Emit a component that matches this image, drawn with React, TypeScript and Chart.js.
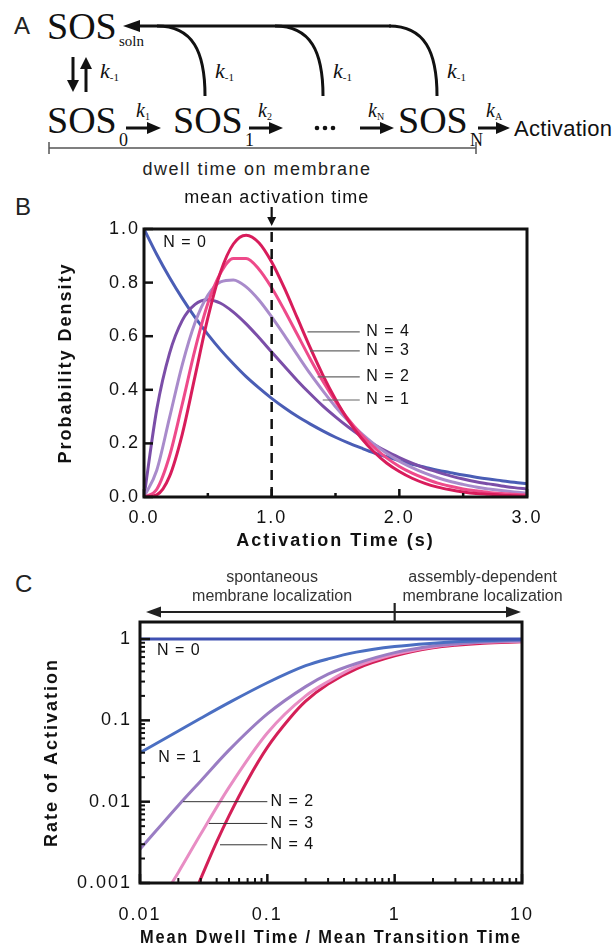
import React, { useEffect, useRef } from "react";
import { Chart, registerables } from "chart.js";

Chart.register(...registerables);

const SANS = '"Liberation Sans", Arial, Helvetica, sans-serif';
const SERIF = '"Liberation Serif", "Times New Roman", Times, serif';
const INK = "#111";

// ---------- Panel B: probability density of the activation time ----------
const activationTime = [0, 0.1, 0.2, 0.3, 0.4, 0.5, 0.6, 0.7, 0.8, 0.9, 1.0, 1.1, 1.2, 1.3, 1.4, 1.5, 1.6, 1.7, 1.8, 1.9, 2.0, 2.1, 2.2, 2.3, 2.4, 2.5, 2.6, 2.7, 2.8, 2.9, 3.0];
const densityN0 = [1.0, 0.905, 0.819, 0.741, 0.67, 0.607, 0.549, 0.497, 0.449, 0.407, 0.368, 0.333, 0.301, 0.273, 0.247, 0.223, 0.202, 0.183, 0.165, 0.15, 0.135, 0.122, 0.111, 0.1, 0.091, 0.082, 0.074, 0.067, 0.061, 0.055, 0.05];
const densityN1 = [0, 0.327, 0.536, 0.659, 0.719, 0.736, 0.723, 0.69, 0.646, 0.595, 0.541, 0.488, 0.435, 0.386, 0.34, 0.299, 0.261, 0.227, 0.197, 0.17, 0.147, 0.126, 0.108, 0.093, 0.079, 0.067, 0.057, 0.049, 0.041, 0.035, 0.03];
const densityN2 = [0, 0.1, 0.296, 0.494, 0.651, 0.753, 0.803, 0.81, 0.784, 0.735, 0.672, 0.603, 0.531, 0.461, 0.397, 0.337, 0.284, 0.238, 0.198, 0.163, 0.134, 0.11, 0.089, 0.072, 0.058, 0.047, 0.037, 0.03, 0.024, 0.019, 0.015];
const densityN3 = [0, 0.029, 0.153, 0.347, 0.551, 0.722, 0.836, 0.89, 0.89, 0.85, 0.781, 0.697, 0.607, 0.517, 0.433, 0.357, 0.29, 0.234, 0.186, 0.146, 0.114, 0.089, 0.069, 0.052, 0.04, 0.03, 0.023, 0.017, 0.013, 0.01, 0.007];
const densityN4 = [0, 0.008, 0.077, 0.235, 0.451, 0.668, 0.84, 0.944, 0.977, 0.949, 0.877, 0.779, 0.669, 0.559, 0.456, 0.365, 0.286, 0.221, 0.169, 0.127, 0.095, 0.07, 0.051, 0.037, 0.027, 0.019, 0.013, 0.01, 0.007, 0.005, 0.003];
const densityLabels = ["N = 0", "N = 1", "N = 2", "N = 3", "N = 4"];
const densityColors = ["#4a5db5", "#7b4ea8", "#a98bcb", "#ee4a8a", "#d81c5b"];
const meanActivationTime = 1.0;

// where the curve tags sit (N = 1 … N = 4), in data units
const densityTagLevel = [0.362, 0.448, 0.545, 0.616];
const densityTagFrom = [1.4, 1.36, 1.3, 1.28];
const densityTagTo = 1.69;
const densityTagTextAt = 1.74;
const densityN0Tag = { x: 0.15, y: 0.948 };

// ---------- Panel C: rate of activation vs dwell/transition ratio ----------
const dwellRatioN0 = [0.01, 10];
const rateN0 = [1, 1];
const dwellRatioN1 = [0.01, 0.02, 0.03, 0.05, 0.1, 0.2, 0.3, 0.5, 1, 2, 3, 5, 10];
const rateN1 = [0.04, 0.074, 0.106, 0.165, 0.29, 0.47, 0.57, 0.69, 0.81, 0.89, 0.925, 0.955, 0.977];
const dwellRatioN2 = [0.01, 0.02, 0.03, 0.05, 0.1, 0.2, 0.3, 0.5, 1, 2, 3, 5, 10];
const rateN2 = [0.0026, 0.009, 0.018, 0.043, 0.12, 0.26, 0.37, 0.5, 0.68, 0.82, 0.87, 0.92, 0.955];
const dwellRatioN3 = [0.0178, 0.02, 0.03, 0.05, 0.1, 0.2, 0.3, 0.5, 1, 2, 3, 5, 10];
const rateN3 = [0.001, 0.00135, 0.004, 0.015, 0.07, 0.2, 0.3, 0.46, 0.65, 0.8, 0.86, 0.91, 0.94];
const dwellRatioN4 = [0.029, 0.04, 0.05, 0.07, 0.1, 0.15, 0.2, 0.3, 0.5, 1, 2, 3, 5, 10];
const rateN4 = [0.001, 0.0032, 0.0067, 0.0184, 0.0465, 0.106, 0.172, 0.28, 0.43, 0.62, 0.78, 0.84, 0.89, 0.925];
const rateLabels = ["N = 0", "N = 1", "N = 2", "N = 3", "N = 4"];
const rateColors = ["#3f50b2", "#4b6fc2", "#9a7dc3", "#e88dc4", "#d41f57"];
const ratioTicks = [0.01, 0.1, 1, 10];
const rateTicks = [0.001, 0.01, 0.1, 1];

const rateN0Tag = { x: 0.0136, y: 0.73 };
const rateN1Tag = { x: 0.0139, y: 0.035 };
const rateTagFrom = [0.0218, 0.0348, 0.0425]; // N = 2, 3, 4
const rateTagLevel = [0.01, 0.0054, 0.00295];
const rateTagTo = 0.1;
const rateTagTextAt = 0.106;
const regimeSplit = 1;
const regimeLeftAt = 0.109;
const regimeRightAt = 4.9;

const zip = (xs: number[], ys: number[]) => xs.map((x, i) => ({ x, y: ys[i] }));

function seg(ctx: any, x1: number, y1: number, x2: number, y2: number) {
  ctx.beginPath();
  ctx.moveTo(x1, y1);
  ctx.lineTo(x2, y2);
  ctx.stroke();
}

function tri(ctx: any, pts: number[][]) {
  ctx.beginPath();
  ctx.moveTo(pts[0][0], pts[0][1]);
  for (let i = 1; i < pts.length; i++) ctx.lineTo(pts[i][0], pts[i][1]);
  ctx.closePath();
  ctx.fill();
}

// wide tracking used by the axis text
const trackedText = {
  id: "trackedText",
  beforeLayout(chart: any, _a: any, opts: any) {
    chart.ctx.letterSpacing = opts.spacing || "0px";
  },
  beforeDraw(chart: any, _a: any, opts: any) {
    chart.ctx.letterSpacing = opts.spacing || "0px";
  },
};

function logMinors(scale: any) {
  const out: number[] = [];
  const e0 = Math.floor(Math.log10(scale.min));
  const e1 = Math.ceil(Math.log10(scale.max));
  for (let e = e0; e <= e1; e++) {
    for (let k = 2; k <= 9; k++) {
      const v = k * Math.pow(10, e);
      if (v > scale.min * 1.0001 && v < scale.max * 0.9999) out.push(v);
    }
  }
  return out;
}

const densityDecor = {
  id: "densityDecor",
  afterDraw(chart: any) {
    const { ctx, chartArea: a } = chart;
    const xs = chart.scales.x;
    const ys = chart.scales.y;
    ctx.save();
    ctx.letterSpacing = "0px";
    ctx.strokeStyle = INK;
    ctx.fillStyle = INK;

    // inward tick marks
    ctx.lineWidth = 2.5;
    const xt = xs.ticks.map((t: any) => t.value);
    xt.forEach((v: number, i: number) => {
      const px = xs.getPixelForValue(v);
      seg(ctx, px, a.bottom, px, a.bottom - 8);
      if (i < xt.length - 1) {
        const m = xs.getPixelForValue((v + xt[i + 1]) / 2);
        seg(ctx, m, a.bottom, m, a.bottom - 4);
      }
    });
    ys.ticks.forEach((t: any) => {
      const py = ys.getPixelForValue(t.value);
      seg(ctx, a.left, py, a.left + 9, py);
    });

    // plot frame
    ctx.lineWidth = 3;
    ctx.strokeRect(a.left, a.top, a.right - a.left, a.bottom - a.top);

    // mean activation time marker above the frame
    const mx = xs.getPixelForValue(meanActivationTime);
    ctx.lineWidth = 2.2;
    seg(ctx, mx, a.top - 22, mx, a.top - 10);
    tri(ctx, [[mx - 4.5, a.top - 12], [mx + 4.5, a.top - 12], [mx, a.top - 3]]);
    ctx.font = `18px ${SANS}`;
    ctx.letterSpacing = "1px";
    ctx.textAlign = "center";
    ctx.textBaseline = "alphabetic";
    ctx.fillText("mean activation time", mx + 5, a.top - 26);

    // curve tags
    ctx.font = `16px ${SANS}`;
    ctx.textAlign = "left";
    ctx.textBaseline = "middle";
    ctx.fillText(densityLabels[0], xs.getPixelForValue(densityN0Tag.x), ys.getPixelForValue(densityN0Tag.y));
    ctx.strokeStyle = "#666";
    ctx.lineWidth = 1.2;
    densityTagLevel.forEach((lv, i) => {
      const py = ys.getPixelForValue(lv);
      seg(ctx, xs.getPixelForValue(densityTagFrom[i]), py, xs.getPixelForValue(densityTagTo), py);
      ctx.fillText(densityLabels[i + 1], xs.getPixelForValue(densityTagTextAt), py);
    });
    ctx.restore();
  },
};

const rateDecor = {
  id: "rateDecor",
  afterDraw(chart: any) {
    const { ctx, chartArea: a } = chart;
    const xs = chart.scales.x;
    const ys = chart.scales.y;
    ctx.save();
    ctx.letterSpacing = "0px";
    ctx.strokeStyle = INK;
    ctx.fillStyle = INK;

    // inward log ticks
    ctx.lineWidth = 2.5;
    xs.ticks.forEach((t: any) => {
      const px = xs.getPixelForValue(t.value);
      seg(ctx, px, a.bottom, px, a.bottom - 9);
    });
    ys.ticks.forEach((t: any) => {
      const py = ys.getPixelForValue(t.value);
      seg(ctx, a.left, py, a.left + 10, py);
    });
    ctx.lineWidth = 2;
    logMinors(xs).forEach((v) => {
      const px = xs.getPixelForValue(v);
      seg(ctx, px, a.bottom, px, a.bottom - 5);
    });
    logMinors(ys).forEach((v) => {
      const py = ys.getPixelForValue(v);
      seg(ctx, a.left, py, a.left + 5, py);
    });

    // plot frame
    ctx.lineWidth = 3;
    ctx.strokeRect(a.left, a.top, a.right - a.left, a.bottom - a.top);

    // regime arrows above the frame
    const ya = a.top - 10;
    const xl = a.left + 6;
    const xr = a.right - 1;
    ctx.strokeStyle = "#222";
    ctx.fillStyle = "#222";
    ctx.lineWidth = 2.2;
    seg(ctx, xl + 10, ya, xr - 10, ya);
    tri(ctx, [[xl, ya], [xl + 15, ya - 5.5], [xl + 15, ya + 5.5]]);
    tri(ctx, [[xr, ya], [xr - 15, ya - 5.5], [xr - 15, ya + 5.5]]);
    const xsplit = xs.getPixelForValue(regimeSplit);
    seg(ctx, xsplit, a.top - 19, xsplit, a.top);

    ctx.fillStyle = "#333";
    ctx.font = `16px ${SANS}`;
    ctx.textAlign = "center";
    ctx.textBaseline = "alphabetic";
    const lx = xs.getPixelForValue(regimeLeftAt);
    const rx = xs.getPixelForValue(regimeRightAt);
    ctx.fillText("spontaneous", lx, a.top - 40);
    ctx.fillText("membrane localization", lx, a.top - 21);
    ctx.fillText("assembly-dependent", rx, a.top - 40);
    ctx.fillText("membrane localization", rx, a.top - 21);

    // curve tags
    ctx.fillStyle = INK;
    ctx.letterSpacing = "1px";
    ctx.textAlign = "left";
    ctx.textBaseline = "middle";
    ctx.fillText(rateLabels[0], xs.getPixelForValue(rateN0Tag.x), ys.getPixelForValue(rateN0Tag.y));
    ctx.fillText(rateLabels[1], xs.getPixelForValue(rateN1Tag.x), ys.getPixelForValue(rateN1Tag.y));
    ctx.strokeStyle = "#333";
    ctx.lineWidth = 1;
    rateTagLevel.forEach((lv, i) => {
      const py = ys.getPixelForValue(lv);
      seg(ctx, xs.getPixelForValue(rateTagFrom[i]), py, xs.getPixelForValue(rateTagTo), py);
      ctx.fillText(rateLabels[i + 2], xs.getPixelForValue(rateTagTextAt), py);
    });
    ctx.restore();
  },
};

const tickFont = { family: SANS, size: 18 };
const titleFont = { family: SANS, size: 18, weight: "bold" as const };

function densityConfig(): any {
  const series = [densityN0, densityN1, densityN2, densityN3, densityN4];
  const curves = series
    .map((ys, i) => ({
      label: densityLabels[i],
      data: zip(activationTime, ys),
      borderColor: densityColors[i],
      borderWidth: 3,
      pointRadius: 0,
      cubicInterpolationMode: "monotone",
      fill: false,
    }))
    .reverse();
  const meanLine = {
    label: "mean activation time",
    data: [
      { x: meanActivationTime, y: 0 },
      { x: meanActivationTime, y: 1 },
    ],
    borderColor: INK,
    borderWidth: 2.5,
    borderDash: [10, 7],
    pointRadius: 0,
    fill: false,
  };
  return {
    type: "line",
    data: { datasets: [meanLine, ...curves] },
    plugins: [trackedText, densityDecor],
    options: {
      animation: false,
      responsive: false,
      devicePixelRatio: 1,
      events: [],
      layout: { padding: { top: 49, right: 87, bottom: 0, left: 0 } },
      plugins: {
        legend: { display: false },
        tooltip: { enabled: false },
        trackedText: { spacing: "2px" },
      },
      scales: {
        x: {
          type: "linear",
          min: 0,
          max: 3,
          ticks: {
            stepSize: 1,
            padding: 10,
            color: INK,
            font: tickFont,
            maxRotation: 0,
            autoSkip: false,
            callback: (v: any) => Number(v).toFixed(1),
          },
          grid: { display: false, drawTicks: false },
          border: { display: false },
          title: { display: true, text: "Activation Time (s)", color: INK, font: titleFont, padding: { top: 0, bottom: 8 } },
          afterFit: (s: any) => {
            s.height = 63;
          },
        },
        y: {
          type: "linear",
          min: 0,
          max: 1,
          ticks: {
            stepSize: 0.2,
            padding: 4,
            color: INK,
            font: tickFont,
            callback: (v: any) => Number(v).toFixed(1),
          },
          grid: { display: false, drawTicks: false },
          border: { display: false },
          title: { display: true, text: "Probability Density", color: INK, font: titleFont, padding: { top: 55, bottom: 0 } },
          afterFit: (s: any) => {
            s.width = 144;
          },
        },
      },
    },
  };
}

function rateConfig(): any {
  const xsList = [dwellRatioN0, dwellRatioN1, dwellRatioN2, dwellRatioN3, dwellRatioN4];
  const ysList = [rateN0, rateN1, rateN2, rateN3, rateN4];
  const datasets = ysList.map((ys, i) => ({
    label: rateLabels[i],
    data: zip(xsList[i], ys),
    borderColor: rateColors[i],
    borderWidth: 3,
    pointRadius: 0,
    cubicInterpolationMode: "monotone",
    fill: false,
  }));
  return {
    type: "line",
    data: { datasets },
    plugins: [trackedText, rateDecor],
    options: {
      animation: false,
      responsive: false,
      devicePixelRatio: 1,
      events: [],
      layout: { padding: { top: 62, right: 92, bottom: 0, left: 0 } },
      plugins: {
        legend: { display: false },
        tooltip: { enabled: false },
        trackedText: { spacing: "2px" },
      },
      scales: {
        x: {
          type: "logarithmic",
          min: 0.01,
          max: 10,
          afterBuildTicks: (s: any) => {
            s.ticks = ratioTicks.map((value) => ({ value }));
          },
          ticks: {
            padding: 21,
            color: INK,
            font: tickFont,
            maxRotation: 0,
            autoSkip: false,
            callback: (v: any) => String(v),
          },
          grid: { display: false, drawTicks: false },
          border: { display: false },
          title: {
            display: true,
            text: "Mean Dwell Time / Mean Transition Time",
            color: INK,
            font: titleFont,
            padding: { top: 0, bottom: 2 },
          },
          afterFit: (s: any) => {
            s.height = 68;
          },
        },
        y: {
          type: "logarithmic",
          min: 0.001,
          max: 1.62,
          afterBuildTicks: (s: any) => {
            s.ticks = rateTicks.map((value) => ({ value }));
          },
          ticks: {
            padding: 8,
            color: INK,
            font: tickFont,
            autoSkip: false,
            callback: (v: any) => String(v),
          },
          grid: { display: false, drawTicks: false },
          border: { display: false },
          title: { display: true, text: "Rate of Activation", color: INK, font: titleFont, padding: { top: 41, bottom: 0 } },
          afterFit: (s: any) => {
            s.width = 140;
          },
        },
      },
    },
  };
}

function ChartPanel({ make, top, height }: { make: () => any; top: number; height: number }) {
  const ref = useRef<HTMLCanvasElement>(null);
  useEffect(() => {
    if (!ref.current) return;
    const chart = new Chart(ref.current, make());
    return () => chart.destroy();
  }, [make]);
  return (
    <canvas
      ref={ref}
      width={614}
      height={height}
      style={{ position: "absolute", left: 0, top, width: 614, height }}
    />
  );
}

// rate constant "k" with a subscript
function Rate({ x, y, sub, size }: { x: number; y: number; sub: string; size: number }) {
  return (
    <text x={x} y={y} fontFamily={SERIF} fill="#111">
      <tspan fontSize={size} fontStyle="italic">k</tspan>
      <tspan fontSize={size * 0.5} dy={size * 0.15}>{sub}</tspan>
    </text>
  );
}

function Arrow({ x1, x2, y }: { x1: number; x2: number; y: number }) {
  return (
    <g>
      <line x1={x1} y1={y} x2={x2 - 10} y2={y} stroke="#111" strokeWidth={3} />
      <polygon points={`${x2},${y} ${x2 - 14},${y - 6} ${x2 - 14},${y + 6}`} fill="#111" />
    </g>
  );
}

function Species({ x, y, sub }: { x: number; y: number; sub: string }) {
  return (
    <g>
      <text x={x} y={y} fontFamily={SERIF} fontSize={38} fill="#111">SOS</text>
      <text x={x + 72} y={y + 13} fontFamily={SERIF} fontSize={18} fill="#111">{sub}</text>
    </g>
  );
}

function ReactionScheme() {
  const arcBottoms = [205, 323, 437];
  return (
    <svg width={614} height={951} style={{ position: "absolute", left: 0, top: 0 }}>
      <text x={14} y={34} fontFamily={SANS} fontSize={24} fill="#222">A</text>
      <text x={47} y={39} fontFamily={SERIF} fontSize={38} fill="#111">SOS</text>
      <text x={119} y={46} fontFamily={SERIF} fontSize={15} fill="#111">soln</text>

      {/* return paths to solution */}
      <line x1={136} y1={26} x2={arcBottoms[2] - 46} y2={26} stroke="#111" strokeWidth={3} />
      {arcBottoms.map((x) => (
        <path key={x} d={`M ${x} 96 C ${x} 52, ${x - 12} 26, ${x - 48} 26`} stroke="#111" strokeWidth={3} fill="none" />
      ))}
      <polygon points="123,26 140,20 140,32" fill="#111" />
      {arcBottoms.map((x) => (
        <Rate key={`k${x}`} x={x + 10} y={78} sub="-1" size={22} />
      ))}

      {/* binding / unbinding */}
      <line x1={73} y1={57} x2={73} y2={82} stroke="#111" strokeWidth={3} />
      <polygon points="67,80 79,80 73,92" fill="#111" />
      <line x1={86} y1={92} x2={86} y2={67} stroke="#111" strokeWidth={3} />
      <polygon points="80,69 92,69 86,57" fill="#111" />
      <Rate x={100} y={78} sub="-1" size={22} />

      {/* membrane-bound steps */}
      <Species x={47} y={133} sub="0" />
      <Arrow x1={126} x2={161} y={128} />
      <Rate x={136} y={117} sub="1" size={20} />
      <Species x={173} y={133} sub="1" />
      <Arrow x1={249} x2={283} y={128} />
      <Rate x={258} y={117} sub="2" size={20} />
      <circle cx={317} cy={128} r={2.3} fill="#111" />
      <circle cx={325} cy={128} r={2.3} fill="#111" />
      <circle cx={333} cy={128} r={2.3} fill="#111" />
      <Arrow x1={360} x2={394} y={128} />
      <Rate x={368} y={117} sub="N" size={20} />
      <Species x={398} y={133} sub="N" />
      <Arrow x1={478} x2={510} y={128} />
      <Rate x={486} y={117} sub="A" size={20} />
      <text x={514} y={136} fontFamily={SANS} fontSize={22} fill="#111" style={{ letterSpacing: "0.3px" }}>Activation</text>

      {/* dwell time scale bar */}
      <line x1={49} y1={148} x2={476} y2={148} stroke="#555" strokeWidth={1.5} />
      <line x1={49} y1={142} x2={49} y2={154} stroke="#555" strokeWidth={1.5} />
      <line x1={476} y1={142} x2={476} y2={154} stroke="#555" strokeWidth={1.5} />
      <text x={257} y={175} textAnchor="middle" fontFamily={SANS} fontSize={18} fill="#222" style={{ letterSpacing: "1.5px" }}>
        dwell time on membrane
      </text>

      <text x={15} y={215} fontFamily={SANS} fontSize={24} fill="#222">B</text>
      <text x={15} y={592} fontFamily={SANS} fontSize={24} fill="#222">C</text>
    </svg>
  );
}

export default function App() {
  return (
    <div
      style={{
        position: "absolute",
        left: 0,
        top: 0,
        width: 614,
        height: 951,
        background: "#fff",
        overflow: "hidden",
      }}
    >
      <ReactionScheme />
      <ChartPanel make={densityConfig} top={180} height={380} />
      <ChartPanel make={rateConfig} top={560} height={391} />
    </div>
  );
}
